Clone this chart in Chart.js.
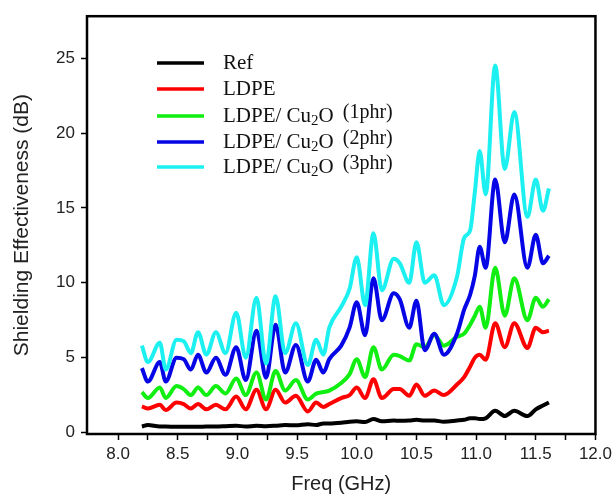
<!DOCTYPE html>
<html><head><meta charset="utf-8">
<script src="https://cdn.jsdelivr.net/npm/chart.js@4.4.1/dist/chart.umd.min.js"></script>
<style>html,body{margin:0;padding:0;background:#fff}canvas{display:block}</style>
</head><body>
<canvas id="c" width="616" height="496"></canvas>
<script>
// Frequency knots (GHz)
const freq = [8.20, 8.25, 8.35, 8.40, 8.49, 8.55, 8.61, 8.67, 8.74, 8.82, 8.90, 8.99, 9.07, 9.16, 9.24, 9.32, 9.40, 9.49, 9.59, 9.66, 9.72, 9.77, 9.87, 9.94, 10.00, 10.07, 10.14, 10.21, 10.31, 10.36, 10.44, 10.50, 10.57, 10.65, 10.73, 10.84, 10.90, 10.95, 10.99, 11.03, 11.08, 11.16, 11.24, 11.32, 11.43, 11.50, 11.56, 11.61];

// Shielding effectiveness (dB)
const seRef  = [0.40, 0.50, 0.40, 0.40, 0.38, 0.38, 0.38, 0.38, 0.40, 0.40, 0.42, 0.45, 0.40, 0.45, 0.42, 0.45, 0.50, 0.48, 0.55, 0.50, 0.60, 0.60, 0.65, 0.72, 0.75, 0.70, 0.90, 0.75, 0.80, 0.78, 0.80, 0.85, 0.80, 0.80, 0.72, 0.80, 0.85, 0.95, 0.95, 0.90, 0.95, 1.45, 1.10, 1.45, 1.10, 1.55, 1.80, 2.00];
const seLDPE = [1.75, 1.60, 1.85, 1.50, 2.00, 1.90, 1.60, 1.90, 1.55, 1.85, 1.55, 2.40, 1.55, 2.85, 1.55, 2.85, 2.00, 2.45, 1.40, 2.00, 1.70, 1.90, 2.30, 2.50, 3.00, 2.30, 3.55, 2.30, 2.90, 2.90, 2.45, 3.20, 2.45, 2.80, 2.50, 3.20, 3.70, 4.40, 5.00, 5.20, 4.85, 7.30, 5.70, 7.30, 5.65, 7.00, 6.70, 6.80];
const se1phr = [2.70, 2.30, 3.00, 2.30, 3.10, 2.90, 2.50, 3.00, 2.50, 3.10, 2.60, 3.60, 2.50, 4.00, 2.20, 4.10, 2.80, 3.50, 2.20, 2.60, 2.70, 2.80, 3.30, 3.90, 4.90, 3.70, 5.70, 4.20, 5.20, 5.10, 4.80, 5.90, 5.70, 6.50, 5.80, 6.40, 6.60, 7.20, 7.80, 8.40, 7.00, 11.00, 7.80, 10.30, 7.50, 9.00, 8.40, 8.90];
const se2phr = [4.30, 3.40, 4.70, 3.40, 5.00, 4.90, 4.20, 5.20, 4.00, 5.00, 3.85, 5.70, 3.50, 6.80, 3.65, 7.20, 4.00, 5.85, 3.40, 4.85, 4.00, 4.90, 5.80, 7.00, 8.70, 6.50, 10.30, 7.50, 9.30, 8.90, 7.00, 8.80, 5.50, 6.60, 5.20, 6.60, 8.20, 9.20, 10.50, 12.40, 11.00, 16.90, 12.70, 15.90, 11.00, 13.20, 11.30, 11.80];
const se3phr = [5.80, 4.70, 6.00, 4.20, 6.20, 6.10, 5.30, 6.70, 5.20, 6.70, 5.30, 8.00, 5.00, 9.00, 4.60, 9.10, 5.30, 7.30, 4.50, 6.20, 5.20, 7.00, 8.40, 9.60, 11.70, 8.50, 13.30, 9.50, 11.60, 11.30, 10.00, 12.70, 10.00, 10.50, 8.50, 10.40, 13.00, 13.50, 16.10, 18.80, 15.90, 24.50, 17.60, 21.40, 14.40, 16.90, 14.80, 16.30];

// Series names
const seriesLabels = ['Ref', 'LDPE', 'LDPE/ Cu\u2082O (1phr)', 'LDPE/ Cu\u2082O (2phr)', 'LDPE/ Cu\u2082O (3phr)'];

// Axis ticks
const xTicks  = [8.0, 8.25, 8.5, 8.75, 9.0, 9.25, 9.5, 9.75, 10.0, 10.25, 10.5, 10.75, 11.0, 11.25, 11.5, 11.75, 12.0];
const xLabels = [8.0, 8.5, 9.0, 9.5, 10.0, 10.5, 11.0, 11.5, 12.0];
const yTicks  = [0, 5, 10, 15, 20, 25];

const seriesValues = [seRef, seLDPE, se1phr, se2phr, se3phr];
const colors = ['#000000', '#ff0000', '#11ee11', '#0505e6', '#1cf0f0'];

const datasets = seriesValues.map((vals, i) => ({
  label: seriesLabels[i],
  data: freq.map((f, j) => ({x: f, y: vals[j]})),
  borderColor: colors[i],
  backgroundColor: colors[i],
  borderWidth: 4,
  pointRadius: 0,
  cubicInterpolationMode: 'monotone',
  fill: false,
  order: 4 - i
}));

const boxAndLegend = {
  id: 'boxAndLegend',
  afterDraw(chart) {
    const ctx = chart.ctx;
    const a = chart.chartArea;
    ctx.save();
    ctx.strokeStyle = '#000';
    ctx.lineWidth = 2.5;
    ctx.strokeRect(a.left, a.top, a.right - a.left, a.bottom - a.top);

    // legend
    const rows = [63, 89, 116, 142, 167];
    chart.data.datasets.forEach((ds, i) => {
      const y = rows[i];
      ctx.strokeStyle = ds.borderColor;
      ctx.lineWidth = 3.5;
      ctx.beginPath();
      ctx.moveTo(157, y);
      ctx.lineTo(204, y);
      ctx.stroke();

      ctx.fillStyle = '#111';
      ctx.textBaseline = 'middle';
      ctx.textAlign = 'left';
      const label = ds.label;
      const m = label.match(/^(.*?)\s*(\(.*\))?$/);
      const main = m[1];
      const suffix = m[2] || '';
      let x = 223;
      const big = '21px "Liberation Serif", "Times New Roman", serif';
      const small = '15px "Liberation Serif", "Times New Roman", serif';
      const parts = main.split('\u2082');
      ctx.font = big;
      ctx.fillText(parts[0], x, y);
      x += ctx.measureText(parts[0]).width;
      if (parts.length > 1) {
        ctx.font = small;
        ctx.fillText('2', x, y + 5);
        x += ctx.measureText('2').width;
        ctx.font = big;
        ctx.fillText(parts[1], x, y);
        x += ctx.measureText(parts[1]).width;
      }
      if (suffix) {
        ctx.font = '20px "Liberation Serif", "Times New Roman", serif';
        ctx.fillText(suffix, x + 9, y - 3);
      }
    });
    ctx.restore();
  }
};

new Chart(document.getElementById('c'), {
  type: 'line',
  data: { datasets },
  plugins: [boxAndLegend],
  options: {
    responsive: false,
    animation: false,
    devicePixelRatio: 1,
    layout: { padding: { top: 15, right: 16, left: 0, bottom: 0 } },
    plugins: { legend: { display: false }, tooltip: { enabled: false } },
    scales: {
      x: {
        type: 'linear',
        min: 7.74,
        max: 12.0,
        afterBuildTicks: s => { s.ticks = xTicks.map(v => ({ value: v })); },
        afterFit: s => { s.height = 62; },
        ticks: {
          autoSkip: false,
          maxRotation: 0,
          padding: 4,
          color: '#222',
          font: { family: '"Liberation Sans", Arial, sans-serif', size: 17 },
          callback: v => xLabels.includes(v) ? v.toFixed(1) : ''
        },
        grid: { drawOnChartArea: false, drawTicks: true, tickLength: 6, tickColor: '#000', tickWidth: 1.5 },
        border: { display: false },
        title: {
          display: true,
          text: 'Freq (GHz)',
          color: '#222',
          font: { family: '"Liberation Sans", Arial, sans-serif', size: 20 },
          padding: { top: 0, bottom: 0 }
        }
      },
      y: {
        type: 'linear',
        min: -0.1,
        max: 27.8,
        afterBuildTicks: s => { s.ticks = yTicks.map(v => ({ value: v })); },
        afterFit: s => { s.width = 87; },
        ticks: {
          padding: 6,
          color: '#222',
          font: { family: '"Liberation Sans", Arial, sans-serif', size: 17 },
          callback: v => String(v)
        },
        grid: { drawOnChartArea: false, drawTicks: true, tickLength: 6, tickColor: '#000', tickWidth: 1.5 },
        border: { display: false },
        title: {
          display: true,
          text: 'Shielding Effectiveness (dB)',
          color: '#222',
          font: { family: '"Liberation Sans", Arial, sans-serif', size: 21 },
          padding: { top: 10, bottom: 0 }
        }
      }
    }
  }
});
</script>
</body></html>
